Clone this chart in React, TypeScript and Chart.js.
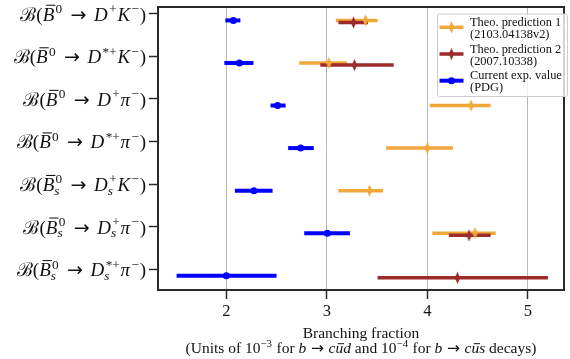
import React, { useEffect, useRef } from 'react';
import { Chart, registerables } from 'chart.js';

Chart.register(...registerables);

// ---------------- data ----------------
const categories = [
  '$ℬ(~B^{0} → D^{+}K^{−})$',
  '$ℬ(~B^{0} → D^{*+}K^{−})$',
  '$ℬ(~B^{0} → D^{+}π^{−})$',
  '$ℬ(~B^{0} → D^{*+}π^{−})$',
  '$ℬ(~B_{s}^{0} → D_{s}^{+}K^{−})$',
  '$ℬ(~B_{s}^{0} → D_{s}^{+}π^{−})$',
  '$ℬ(~B_{s}^{0} → D_{s}^{*+}π^{−})$',
];

const theo1Central = [3.385, 3.02, 4.435, 4.0, 3.425, 4.475, null];
const theo1Low = [3.09, 2.725, 4.025, 3.59, 3.115, 4.05, null];
const theo1High = [3.505, 3.2, 4.63, 4.255, 3.56, 4.68, null];

const theo2Central = [3.265, 3.275, null, null, null, 4.415, 4.3];
const theo2Low = [3.115, 2.935, null, null, null, 4.215, 3.505];
const theo2High = [3.41, 3.665, null, null, null, 4.63, 5.2];

const pdgCentral = [2.07, 2.13, 2.51, 2.74, 2.275, 3.005, 2.0];
const pdgLow = [1.99, 1.98, 2.44, 2.615, 2.085, 2.775, 1.505];
const pdgHigh = [2.14, 2.27, 2.59, 2.87, 2.46, 3.23, 2.5];

const xTicks = [2, 3, 4, 5];

const seriesNames = [
  ['Theo. prediction 1', '(2103.04138v2)'],
  ['Theo. prediction 2', '(2007.10338)'],
  ['Current exp. value', '(PDG)'],
];

const xTitle1 = 'Branching fraction';
const xTitle2 = '(Units of $10^{−3}$ for $b → c~ud$ and $10^{−4}$ for $b → c~us$ decays)';

// ---------------- style ----------------
const ORANGE = '#f2a73a';
const RED = '#9c2b2b';
const BLUE = '#0000ff';
const FAMILY = '"Liberation Serif", "DejaVu Serif", serif';
const ARROW_FAMILY = '"DejaVu Sans", sans-serif';
const SPINE = '#2a2a2a';
const W = 570;
const H = 359;
const ROW_OFFSET = { theo1: 0.155, theo2: 0.205, pdg: 0.155 };

// ---------------- rich text ----------------
type Atom = { t: string; it: boolean; bar: boolean; pad: number; sup?: Atom[]; sub?: Atom[] };
const isLetter = (c: string) => /[A-Za-zα-ωΑ-Ω]/.test(c);

function parse(s: string, relPad = 0.3): Atom[] {
  const out: Atom[] = [];
  let math = false;
  let i = 0;
  while (i < s.length) {
    const c = s[i];
    if (c === '$') { math = !math; i++; continue; }
    if (math && c === ' ') { i++; continue; }
    if (math && (c === '^' || c === '_')) {
      i++;
      let g: string;
      if (s[i] === '{') { const j = s.indexOf('}', i); g = s.slice(i + 1, j); i = j + 1; }
      else { g = s[i]; i++; }
      const atoms = parse('$' + g + '$', relPad);
      const prev = out[out.length - 1];
      if (c === '^') prev.sup = atoms; else prev.sub = atoms;
      continue;
    }
    if (math && c === '~') {
      const ch = s[i + 1];
      out.push({ t: ch, it: isLetter(ch), bar: true, pad: 0 });
      i += 2;
      continue;
    }
    out.push({ t: c, it: math && isLetter(c), bar: false, pad: math && c === '→' ? relPad : 0 });
    i++;
  }
  return out;
}

const fontOf = (size: number, it: boolean, t = '') =>
  `${it ? 'italic ' : ''}${size}px ${t === '→' ? ARROW_FAMILY : FAMILY}`;

function drawRich(ctx: CanvasRenderingContext2D, atoms: Atom[], x: number, base: number, size: number, color: string, dry = false): number {
  ctx.fillStyle = color;
  ctx.strokeStyle = color;
  ctx.textBaseline = 'alphabetic';
  ctx.textAlign = 'left';
  for (const a of atoms) {
    x += a.pad * size;
    ctx.font = fontOf(size, a.it, a.t);
    const w = ctx.measureText(a.t).width;
    if (!dry) {
      ctx.fillText(a.t, x, base);
      if (a.bar) {
        ctx.beginPath();
        ctx.lineWidth = Math.max(1, size * 0.055);
        const upper = a.t === a.t.toUpperCase();
        const y = base - size * (upper ? 0.82 : 0.6);
        ctx.moveTo(x + w * (a.it ? 0.3 : 0.15), y);
        ctx.lineTo(x + w + (a.it ? size * 0.06 : -w * 0.1), y);
        ctx.stroke();
      }
    }
    x += w;
    if (a.sup || a.sub) {
      const ss = size * 0.7;
      let sw = 0;
      if (a.sup) {
        const wx = drawRich(ctx, a.sup, x + (a.it ? size * 0.07 : 0), base - size * 0.4, ss, color, dry);
        sw = Math.max(sw, wx - x);
      }
      if (a.sub) {
        const wx = drawRich(ctx, a.sub, x, base + size * 0.2, ss, color, dry);
        sw = Math.max(sw, wx - x);
      }
      x += sw + size * 0.04;
    }
    x += a.pad * size;
  }
  return x;
}

const measure = (ctx: CanvasRenderingContext2D, atoms: Atom[], size: number) => drawRich(ctx, atoms, 0, 0, size, '#000', true);

// ---------------- markers ----------------
function diamond(color: string): HTMLCanvasElement {
  const c = document.createElement('canvas');
  c.width = 7;
  c.height = 13;
  const g = c.getContext('2d')!;
  g.fillStyle = color;
  g.beginPath();
  g.moveTo(3.5, 0.5);
  g.lineTo(6.2, 6.5);
  g.lineTo(3.5, 12.5);
  g.lineTo(0.8, 6.5);
  g.closePath();
  g.fill();
  return c;
}

function points(central: (number | null)[], off: number) {
  const out: { x: number; y: number }[] = [];
  central.forEach((v, i) => { if (v !== null) out.push({ x: v, y: i + off }); });
  return out;
}

export default function App() {
  const ref = useRef<HTMLCanvasElement | null>(null);

  useEffect(() => {
    if (!ref.current) return;
    const orangeD = diamond(ORANGE);
    const redD = diamond(RED);

    const series = [
      { c: theo1Central, lo: theo1Low, hi: theo1High, off: ROW_OFFSET.theo1, color: ORANGE, lw: 3.5 },
      { c: theo2Central, lo: theo2Low, hi: theo2High, off: ROW_OFFSET.theo2, color: RED, lw: 3.5 },
      { c: pdgCentral, lo: pdgLow, hi: pdgHigh, off: ROW_OFFSET.pdg, color: BLUE, lw: 4 },
    ];

    const errPlugin = {
      id: 'errbars',
      beforeDatasetsDraw(chart: any) {
        const { ctx, scales } = chart;
        const xs = scales.x, ys = scales.y;
        ctx.save();
        ctx.lineCap = 'butt';
        for (const s of series) {
          ctx.strokeStyle = s.color;
          ctx.lineWidth = s.lw;
          s.c.forEach((v, i) => {
            if (v === null) return;
            const y = ys.getPixelForValue(i + s.off);
            ctx.beginPath();
            ctx.moveTo(xs.getPixelForValue(s.lo[i] as number), y);
            ctx.lineTo(xs.getPixelForValue(s.hi[i] as number), y);
            ctx.stroke();
          });
        }
        ctx.restore();
      },
      afterDraw(chart: any) {
        const { ctx, scales, chartArea } = chart;
        ctx.save();
        // spines
        ctx.strokeStyle = SPINE;
        ctx.lineWidth = 2;
        ctx.strokeRect(chartArea.left, chartArea.top, chartArea.right - chartArea.left, chartArea.bottom - chartArea.top);
        // y labels
        const ys = scales.y;
        categories.forEach((lab, i) => {
          const atoms = parse(lab, 0.4);
          const size = 19;
          const w = measure(ctx, atoms, size);
          const y = ys.getPixelForValue(i);
          drawRich(ctx, atoms, chartArea.left - 12 - w, y + 7, size, '#111');
        });
        // x title
        const cx = (chartArea.left + chartArea.right) / 2;
        const t1 = parse(xTitle1);
        const t2 = parse(xTitle2);
        const ts = 15.5;
        drawRich(ctx, t1, cx - measure(ctx, t1, ts) / 2, 337.5, ts, '#111');
        drawRich(ctx, t2, cx - measure(ctx, t2, ts) / 2, 353, ts, '#111');
        // legend
        const lx = 437, ly = 13.5, lw = 130, lh = 82.5;
        ctx.fillStyle = 'rgba(255,255,255,0.8)';
        ctx.strokeStyle = '#cccccc';
        ctx.lineWidth = 1;
        ctx.beginPath();
        (ctx as any).roundRect(lx + 0.5, ly + 0.5, lw, lh, 2);
        ctx.fill();
        ctx.stroke();
        const marks = [orangeD, redD, null];
        series.forEach((s, k) => {
          const yy = 27.3 + k * 26.7;
          ctx.strokeStyle = s.color;
          ctx.lineWidth = s.lw;
          ctx.beginPath();
          ctx.moveTo(439.5, yy);
          ctx.lineTo(463.5, yy);
          ctx.stroke();
          const m = marks[k];
          if (m) ctx.drawImage(m, 451.5 - m.width / 2, yy - m.height / 2);
          else {
            ctx.fillStyle = s.color;
            ctx.beginPath();
            ctx.arc(451.5, yy, 3.5, 0, Math.PI * 2);
            ctx.fill();
          }
          ctx.fillStyle = '#111';
          ctx.font = fontOf(12.4, false);
          ctx.textBaseline = 'alphabetic';
          ctx.textAlign = 'left';
          ctx.fillText(seriesNames[k][0], 470, yy - 1.5);
          ctx.fillText(seriesNames[k][1], 470, yy + 10.5);
        });
        ctx.restore();
      },
    };

    const chart = new Chart(ref.current, {
      type: 'scatter',
      data: {
        datasets: [
          {
            label: 'Current exp. value (PDG)',
            data: points(pdgCentral, ROW_OFFSET.pdg),
            pointStyle: 'circle',
            pointRadius: 3.5,
            pointBackgroundColor: BLUE,
            pointBorderWidth: 0,
            borderColor: BLUE,
            order: 1,
          },
          {
            label: 'Theo. prediction 2 (2007.10338)',
            data: points(theo2Central, ROW_OFFSET.theo2),
            pointStyle: redD,
            pointRadius: 5,
            pointBackgroundColor: RED,
            borderColor: RED,
            order: 2,
          },
          {
            label: 'Theo. prediction 1 (2103.04138v2)',
            data: points(theo1Central, ROW_OFFSET.theo1),
            pointStyle: orangeD,
            pointRadius: 5,
            pointBackgroundColor: ORANGE,
            borderColor: ORANGE,
            order: 3,
          },
        ],
      },
      options: {
        animation: false,
        responsive: false,
        devicePixelRatio: 1,
        layout: { padding: { top: 7, right: 1, left: 0, bottom: 0 } },
        plugins: { legend: { display: false }, tooltip: { enabled: false } },
        scales: {
          x: {
            type: 'linear',
            min: 1.32,
            max: 5.36,
            afterBuildTicks: (s: any) => { s.ticks = xTicks.map((v) => ({ value: v })); },
            afterFit: (s: any) => { s.height = H - 290; },
            ticks: {
              color: '#111',
              font: { family: FAMILY, size: 16.5 },
              padding: 3,
              callback: (v: any) => String(v),
            },
            grid: {
              color: '#b8b8b8',
              lineWidth: 1,
              drawTicks: true,
              tickLength: 9,
              tickColor: SPINE,
              tickWidth: 1.5,
            },
            border: { display: true, color: SPINE, width: 2 },
          },
          y: {
            type: 'linear',
            reverse: true,
            min: -0.16,
            max: 6.49,
            afterBuildTicks: (s: any) => { s.ticks = categories.map((_, i) => ({ value: i })); },
            afterFit: (s: any) => { s.width = 158; },
            ticks: { display: false },
            grid: {
              drawOnChartArea: false,
              drawTicks: true,
              tickLength: 9,
              tickColor: SPINE,
              tickWidth: 1.5,
            },
            border: { display: true, color: SPINE, width: 2 },
          },
        },
      },
      plugins: [errPlugin],
    } as any);
    return () => chart.destroy();
  }, []);

  return (
    <div style={{ position: 'fixed', left: 0, top: 0, width: W, height: H, background: '#fff' }}>
      <canvas ref={ref} width={W} height={H} style={{ width: W, height: H, display: 'block' }} />
    </div>
  );
}
